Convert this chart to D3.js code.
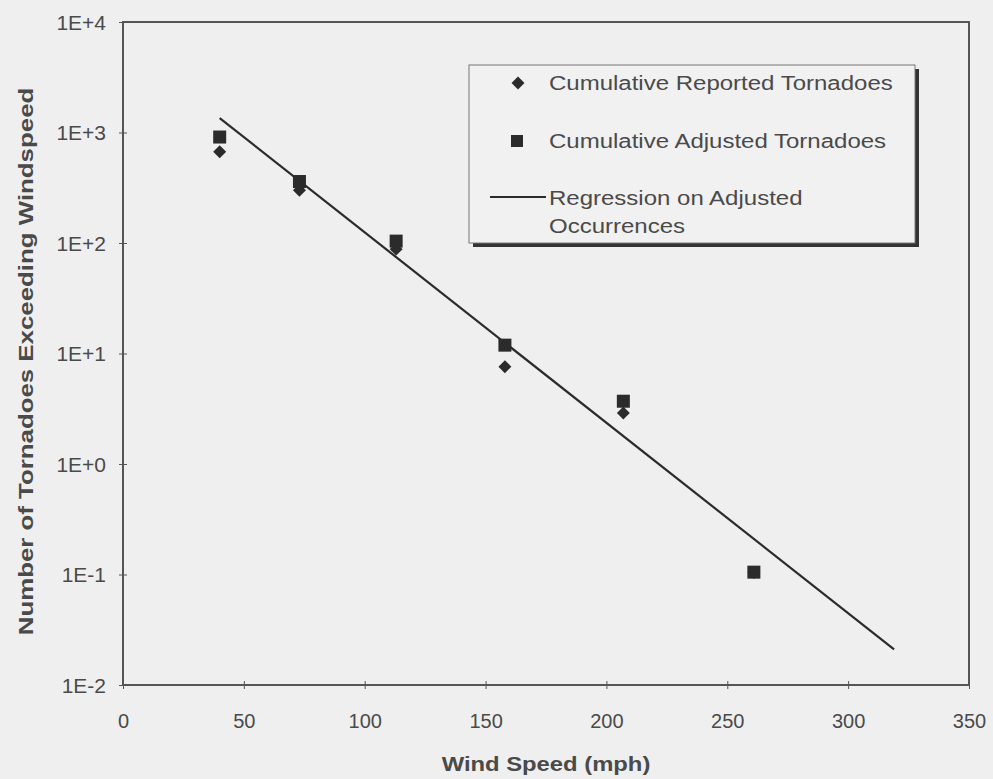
<!DOCTYPE html>
<html>
<head>
<meta charset="utf-8">
<script src="https://cdn.jsdelivr.net/npm/d3@7"></script>
<style>
  html, body { margin: 0; padding: 0; background: #efefef; }
  svg { display: block; }
  text { font-family: "Liberation Sans", Arial, sans-serif; fill: #4a4a4a; }
</style>
</head>
<body>
<div id="chart"></div>
<script>
// Fujita scale threshold wind speeds (mph)
const windSpeeds = [40, 73, 113, 158, 207, 261];
const reportedCounts = [670, 300, 88, 7.6, 2.9, 0.104];
const adjustedCounts = [910, 360, 104, 11.9, 3.7, 0.105];

// regression line end points (wind speed, count)
const regressionSpeeds = [40, 319];
const regressionCounts = [1350, 0.021];

const xTicks = [0, 50, 100, 150, 200, 250, 300, 350];
const yTicks = [1e-2, 1e-1, 1, 10, 100, 1000, 10000];
const yTickLabels = ['1E-2', '1E-1', '1E+0', '1E+1', '1E+2', '1E+3', '1E+4'];

const legendLabels = ['Cumulative Reported Tornadoes', 'Cumulative Adjusted Tornadoes', 'Regression on Adjusted', 'Occurrences'];

const W = 993, H = 779;
const margin = { top: 22, right: 24, bottom: 94, left: 123 };
const width = W - margin.left - margin.right;
const height = H - margin.top - margin.bottom;
const ink = '#2b2b2b';

const svg = d3.select('#chart').append('svg')
  .attr('width', W)
  .attr('height', H);

const g = svg.append('g')
  .attr('transform', `translate(${margin.left},${margin.top})`);

const x = d3.scaleLinear().domain([0, 350]).range([0, width]);
const y = d3.scaleLog().domain([1e-2, 1e4]).range([height, 0]);

// stretch text along its reading direction (the scanned lettering is wide)
function stretch(sel, factor) {
  sel.each(function() {
    const len = this.getComputedTextLength();
    d3.select(this)
      .attr('textLength', len * factor)
      .attr('lengthAdjust', 'spacingAndGlyphs');
  });
}

// frame
g.append('rect')
  .attr('width', width)
  .attr('height', height)
  .attr('fill', 'none')
  .attr('stroke', '#555')
  .attr('stroke-width', 2);

// x axis
const xAxis = g.append('g')
  .attr('transform', `translate(0,${height})`)
  .call(d3.axisBottom(x).tickValues(xTicks).tickFormat(d3.format('d')).tickSize(4).tickPadding(20));
xAxis.select('.domain').remove();
xAxis.selectAll('.tick line').attr('y1', -4).attr('stroke', '#555');
xAxis.selectAll('.tick text')
  .style('font-size', '20px')
  .attr('dy', 0)
  .attr('y', 43)
  .attr('fill', '#4a4a4a');

// y axis
const yAxis = g.append('g')
  .call(d3.axisLeft(y).tickValues(yTicks).tickFormat((d, i) => yTickLabels[i]).tickSize(4));
yAxis.select('.domain').remove();
yAxis.selectAll('.tick line').attr('x1', 4).attr('stroke', '#555');
yAxis.selectAll('.tick text')
  .style('font-size', '20px')
  .attr('x', -17)
  .attr('dy', '0.36em')
  .attr('fill', '#4a4a4a');
stretch(yAxis.selectAll('.tick text'), 1.05);

// axis titles
const xTitle = svg.append('text')
  .attr('x', margin.left + width / 2)
  .attr('y', 771)
  .attr('text-anchor', 'middle')
  .style('font-size', '20px')
  .style('font-weight', 'bold')
  .text('Wind Speed (mph)');
stretch(xTitle, 1.19);

const yTitle = svg.append('text')
  .attr('transform', `translate(33,${margin.top + height / 2 + 8}) rotate(-90)`)
  .attr('text-anchor', 'middle')
  .style('font-size', '21px')
  .style('font-weight', 'bold')
  .text('Number of Tornadoes Exceeding Windspeed');
stretch(yTitle, 1.23);

// regression line
const regression = regressionSpeeds.map((v, i) => ({ v, n: regressionCounts[i] }));
g.append('path')
  .datum(regression)
  .attr('d', d3.line().x(d => x(d.v)).y(d => y(d.n)))
  .attr('fill', 'none')
  .attr('stroke', ink)
  .attr('stroke-width', 2.2);

// markers
const diamond = d3.symbol().type(d3.symbolSquare).size(84);
const reported = windSpeeds.map((v, i) => ({ v, n: reportedCounts[i] }));
const adjusted = windSpeeds.map((v, i) => ({ v, n: adjustedCounts[i] }));

g.selectAll('.reported')
  .data(reported)
  .enter().append('path')
  .attr('class', 'reported')
  .attr('d', diamond)
  .attr('transform', d => `translate(${x(d.v)},${y(d.n)}) rotate(45)`)
  .attr('fill', ink);

g.selectAll('.adjusted')
  .data(adjusted)
  .enter().append('rect')
  .attr('class', 'adjusted')
  .attr('x', d => x(d.v) - 6.5)
  .attr('y', d => y(d.n) - 6.5)
  .attr('width', 13)
  .attr('height', 13)
  .attr('fill', ink);

// legend
const legend = svg.append('g').attr('transform', 'translate(469,65)');
const boxW = 446, boxH = 178;

legend.append('rect')
  .attr('x', 4).attr('y', 4)
  .attr('width', boxW).attr('height', boxH)
  .attr('fill', '#333');
legend.append('rect')
  .attr('width', boxW).attr('height', boxH)
  .attr('fill', '#f1f1f1')
  .attr('stroke', '#777')
  .attr('stroke-width', 1);

legend.append('path')
  .attr('d', diamond)
  .attr('transform', 'translate(49,18) rotate(45)')
  .attr('fill', ink);
legend.append('rect')
  .attr('x', 42).attr('y', 70)
  .attr('width', 12).attr('height', 12)
  .attr('fill', ink);
legend.append('line')
  .attr('x1', 21).attr('x2', 77)
  .attr('y1', 132).attr('y2', 132)
  .attr('stroke', ink)
  .attr('stroke-width', 2);

const legendBaselines = [25, 83, 140, 168];
const legendText = legend.selectAll('.legend-text')
  .data(legendLabels)
  .enter().append('text')
  .attr('class', 'legend-text')
  .attr('x', 80)
  .attr('y', (d, i) => legendBaselines[i])
  .style('font-size', '20px')
  .text(d => d);
stretch(legendText, 1.2);
</script>
</body>
</html>
